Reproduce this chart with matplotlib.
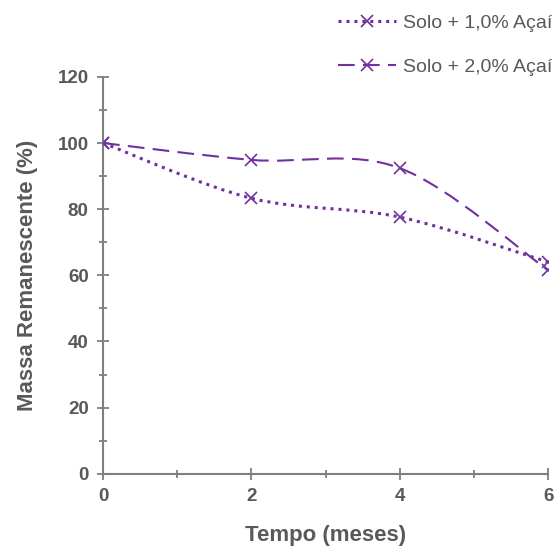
import matplotlib.pyplot as plt
from matplotlib.path import Path
from matplotlib.patches import PathPatch
from matplotlib.lines import Line2D

plt.rcParams['font.family'] = ['Liberation Sans', 'DejaVu Sans']

tempo = [0, 2, 4, 6]
acai_1 = [100, 83.3, 77.6, 64.0]
acai_2 = [100, 94.9, 92.4, 61.5]
labels = ['Solo + 1,0% Açaí', 'Solo + 2,0% Açaí']

purple = '#7030A0'
gray = '#7f7f7f'
text_c = '#595959'


def smooth_path(xs, ys):
    # Excel-like smoothed line as cubic bezier segments
    pts = list(zip(xs, ys))
    verts = [pts[0]]
    codes = [Path.MOVETO]
    n = len(pts)
    for i in range(n - 1):
        p0 = pts[i - 1] if i > 0 else pts[i]
        p1 = pts[i]
        p2 = pts[i + 1]
        p3 = pts[i + 2] if i + 2 < n else pts[i + 1]
        c1 = (p1[0] + (p2[0] - p0[0]) / 6, p1[1] + (p2[1] - p0[1]) / 6)
        c2 = (p2[0] - (p3[0] - p1[0]) / 6, p2[1] - (p3[1] - p1[1]) / 6)
        verts += [c1, c2, p2]
        codes += [Path.CURVE4] * 3
    return Path(verts, codes)


fig = plt.figure(figsize=(5.6, 5.49), dpi=100)
ax = fig.add_axes([0.184, 0.137, 0.795, 0.723])

styles = [(0, (1, 1.6)), (0, (8, 4))]
widths = [2.2, 1.5]
handles = []
for ys, ls, lw, lab in zip([acai_1, acai_2], styles, widths, labels):
    patch = PathPatch(smooth_path(tempo, ys), facecolor='none', edgecolor=purple,
                      lw=lw, linestyle=ls, zorder=3)
    ax.add_patch(patch)
    ax.plot(tempo, ys, linestyle='none', marker='x', ms=9, mew=1.2, color=purple, zorder=4)
    handles.append(Line2D([], [], color=purple, linestyle=ls, marker='x', ms=9, mew=1.2, lw=lw))

ax.set_xlim(0, 6)
ax.set_ylim(0, 120)
ax.set_xticks([0, 2, 4, 6])
ax.set_xticks([1, 3, 5], minor=True)
ax.set_yticks(range(0, 121, 20))
ax.set_yticks(range(10, 120, 20), minor=True)

for s in ['top', 'right']:
    ax.spines[s].set_visible(False)
for s in ['left', 'bottom']:
    ax.spines[s].set_color(gray)
    ax.spines[s].set_linewidth(1.5)
    ax.spines[s].set_clip_on(False)

ax.tick_params(which='both', direction='inout', color=gray, width=1.3)
ax.tick_params(which='major', length=8.6, labelsize=13.5, labelcolor=text_c, pad=6)
ax.tick_params(which='minor', length=5.8)
for t in ax.get_xticklabels() + ax.get_yticklabels():
    t.set_fontweight('bold')

ax.set_xlabel('Tempo (meses)', fontsize=16, fontweight='bold', color=text_c, labelpad=14)
ax.set_ylabel('Massa Remanescente (%)', fontsize=16, fontweight='bold', color=text_c, labelpad=14)

fig.legend(handles, labels, loc='upper left', bbox_to_anchor=(0.603, 0.974), frameon=False,
           fontsize=14, labelcolor=text_c, handlelength=3.0, labelspacing=1.35,
           handletextpad=0.35, borderpad=0, borderaxespad=0)

fig.savefig('out.png', dpi=100)
